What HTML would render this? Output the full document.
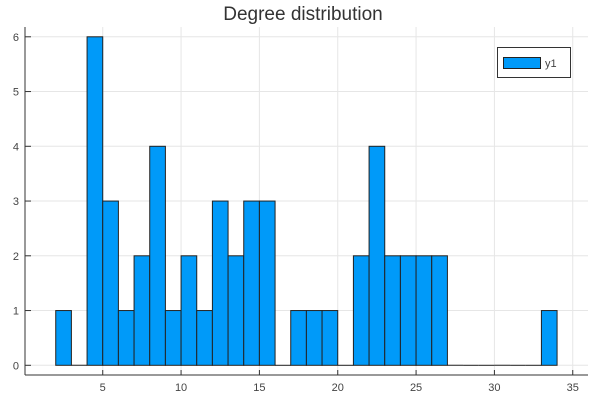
<!DOCTYPE html>
<html><head><meta charset="utf-8"><style>
html,body{margin:0;padding:0;background:#fff;}
svg{display:block;font-family:"Liberation Sans",sans-serif;}
</style></head><body>
<svg id="chart" width="600" height="400">
<text x="303" y="20" text-anchor="middle" font-size="19" fill="#333">Degree distribution</text>
<g id="grid"></g>
<g id="bars"></g>
<g id="axes"></g>
<g>
<rect x="497.5" y="47.5" width="73" height="30" fill="#fff" stroke="#333"/>
<rect x="503.5" y="57.5" width="37" height="11" fill="#009af9" stroke="#222"/>
<text x="545" y="67" font-size="11" fill="#444">y1</text>
</g>
</svg>
<script>
const binStarts=[2,3,4,5,6,7,8,9,10,11,12,13,14,15,16,17,18,19,20,21,22,23,24,25,26,27,28,29,30,31,32,33];
const counts=[1,0,6,3,1,2,4,1,2,1,3,2,3,3,0,1,1,1,0,2,4,2,2,2,2,0,0,0,0,0,0,1];
const xTicks=[5,10,15,20,25,30,35];
const yTicks=[0,1,2,3,4,5,6];
const NS="http://www.w3.org/2000/svg";
const sx=v=>24.4+(v)*15.667;
const sy=v=>365.3-v*54.75;
const L=25,R=588,T=27,B=375;
function mk(tag,attrs,parent){const e=document.createElementNS(NS,tag);for(const k in attrs)e.setAttribute(k,attrs[k]);document.getElementById(parent).appendChild(e);return e;}
xTicks.forEach(t=>{
 const g=mk('line',{x1:sx(t),x2:sx(t),y1:T,y2:B,stroke:'#e6e6e6','stroke-width':1},'grid');
 
 
 const tk=mk('line',{x1:sx(t),x2:sx(t),y1:B,y2:B-5,stroke:'#333'},'axes');
 
 
 const tx=mk('text',{x:sx(t),y:B+16,'text-anchor':'middle','font-size':11,fill:'#444'},'axes');
 tx.textContent=t;
 
 
});
yTicks.forEach(t=>{
 const g=mk('line',{x1:L,x2:R,y1:sy(t),y2:sy(t),stroke:'#e6e6e6','stroke-width':1},'grid');
 
 
 const tk=mk('line',{x1:L,x2:L+6,y1:sy(t),y2:sy(t),stroke:'#333'},'axes');
 
 
 const tx=mk('text',{x:L-6,y:sy(t)+4,'text-anchor':'end','font-size':11,fill:'#444'},'axes');
 tx.textContent=t;
 
 
});
binStarts.forEach((b,i)=>{
 const x0=sx(b),x1=sx(b+1),y=sy(counts[i]);
 if(counts[i]===0){
  const ln=mk('line',{x1:x0,x2:x1,y1:sy(0),y2:sy(0),stroke:'#222','stroke-width':1},'bars');
  
  
  return;
 }
 const r=mk('rect',{x:x0,y:y,width:x1-x0,height:sy(0)-y,fill:'#009af9',stroke:'#222','stroke-width':1},'bars');
 
 
});
const ax=mk('line',{x1:L,x2:R,y1:B,y2:B,stroke:'#333','stroke-width':1},'axes');


const ay=mk('line',{x1:L,x2:L,y1:T,y2:B,stroke:'#333','stroke-width':1},'axes');


</script>
</body></html>
